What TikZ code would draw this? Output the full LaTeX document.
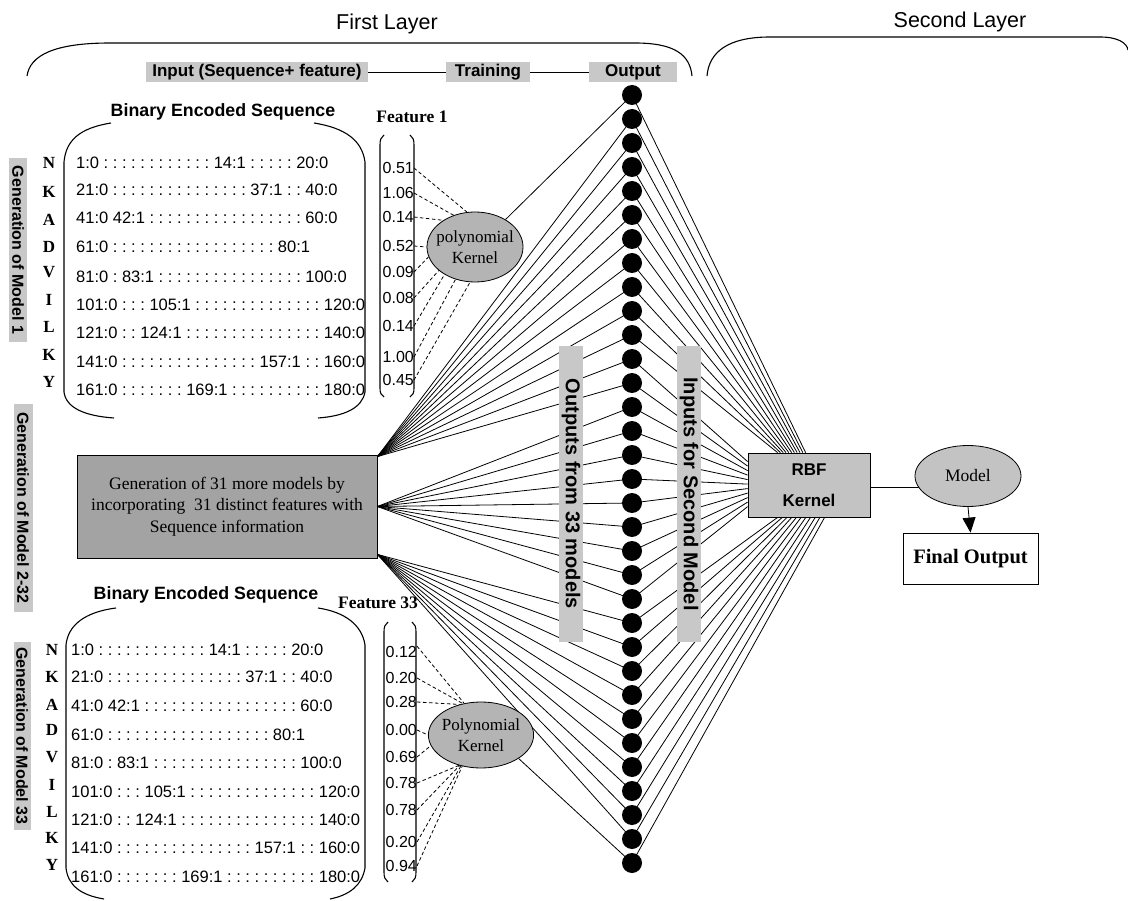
\documentclass[tikz,border=0pt]{standalone}
\usepackage{fontspec}
\setmainfont{Liberation Serif}
\setsansfont{Liberation Sans}
\usetikzlibrary{shapes.geometric,arrows.meta,backgrounds}
\definecolor{labg}{RGB}{200,200,200}
\definecolor{boxg}{RGB}{163,163,163}
\definecolor{ellg}{RGB}{180,180,180}
\definecolor{rbfg}{RGB}{195,195,195}
\newcommand\mycols[1]{\foreach\ci in {1,...,#1}{\ :}}
\tikzset{
 greylab/.style={fill=labg, inner sep=1pt, minimum height=20pt, font=\sffamily\bfseries\fontsize{17}{20}\selectfont},
 vlab/.style={fill=labg, inner sep=0pt, rotate=-90, font=\sffamily\bfseries\fontsize{16}{18}\selectfont},
 vlabbig/.style={fill=labg, inner sep=0pt, rotate=-90, minimum height=24pt, minimum width=295pt, font=\sffamily\bfseries\fontsize{20}{22}\selectfont},
 seqrow/.style={anchor=west, inner sep=0pt, font=\sffamily\fontsize{16.5}{18}\selectfont},
 aalab/.style={inner sep=0pt, font=\bfseries\fontsize{17}{18}\selectfont},
 fval/.style={anchor=east, inner sep=0pt, font=\sffamily\fontsize{16}{18}\selectfont},
 dotn/.style={circle, fill=black, minimum size=20pt, inner sep=0pt},
 kern/.style={ellipse, draw, fill=ellg, line width=0.8pt, inner ysep=0pt, align=center, font=\fontsize{17}{21}\selectfont},
 dsh/.style={dash pattern=on 3.5pt off 2.5pt, line width=0.8pt},
 conn/.style={line width=0.8pt},
 brk/.style={line width=1.1pt},
 bigtitle/.style={font=\sffamily\fontsize{21.5}{24}\selectfont},
 sechead/.style={font=\sffamily\bfseries\fontsize{17.8}{20}\selectfont},
 feathead/.style={font=\bfseries\fontsize{17.5}{20}\selectfont},
}
\begin{document}
\begin{tikzpicture}[x=1pt,y=-1pt]
\useasboundingbox (0,0) rectangle (1128,901);

% titles and braces
\node[bigtitle] (t1) at (387,24) {First Layer};
\node[bigtitle] (t2) at (960,22) {Second Layer};
\draw[brk] (27,76) .. controls (30,55) and (55,43) .. (110,43) -- (635,43) .. controls (675,43) and (690,55) .. (692,76);
\draw[brk] (707,76) .. controls (709,52) and (728,37) .. (770,37) -- (1100,37) .. controls (1118,37) and (1127,43) .. (1128,50);

% top row of grey labels
\node[greylab, minimum width=222pt] (inp) at (257,72) {Input (Sequence+ feature)};
\node[greylab, minimum width=84pt] (trn) at (488,72) {Training};
\node[greylab, minimum width=88pt] (outl) at (633,72) {Output};
\draw[conn] (inp) -- (trn);
\draw[conn] (trn) -- (outl);

% ---------- block 1 ----------
\node[sechead] (bes1) at (223,112) {Binary Encoded Sequence};
\node[feathead] (f1) at (412,117) {Feature 1};
\draw[brk] (111,123) .. controls (80,128) and (66,140) .. (64,162) -- (64,392) .. controls (66,408) and (85,416) .. (114,418);
\draw[brk] (314,123) .. controls (345,128) and (362,140) .. (365,162) -- (365,392) .. controls (362,408) and (345,416) .. (318,418);
\foreach \lt/\yy [count=\i] in {N/163,K/192,A/220,D/247,V/272,I/300,L/327,K/355,Y/382}
  \node[aalab] (la\i) at (49,\yy) {\lt};
\node[seqrow] (ra1) at (76,163) {1:0\mycols{12}\ 14:1\mycols{5}\ 20:0};
\node[seqrow] (ra2) at (76,190) {21:0\mycols{15}\ 37:1\mycols{2}\ 40:0};
\node[seqrow] (ra3) at (76,218) {41:0 42:1\mycols{17}\ 60:0};
\node[seqrow] (ra4) at (76,247) {61:0\mycols{18}\ 80:1};
\node[seqrow] (ra5) at (76,277) {81:0\mycols{1}\ 83:1\mycols{16}\ 100:0};
\node[seqrow] (ra6) at (76,305) {101:0\mycols{3}\ 105:1\mycols{14}\ 120:0};
\node[seqrow] (ra7) at (76,333) {121:0\mycols{2}\ 124:1\mycols{15}\ 140:0};
\node[seqrow] (ra8) at (76,362) {141:0\mycols{15}\ 157:1\mycols{2}\ 160:0};
\node[seqrow] (ra9) at (76,390) {161:0\mycols{7}\ 169:1\mycols{10}\ 180:0};
% feature column 1
\draw[brk] (384,135) .. controls (381,137) and (380,140) .. (380,145) -- (380,388) .. controls (380,393) and (381,395) .. (384,397);
\draw[brk] (410,135) .. controls (413,137) and (414,140) .. (414,145) -- (414,388) .. controls (414,393) and (413,395) .. (410,397);
\foreach \vv/\yy [count=\i] in {0.51/168,1.06/193,0.14/217,0.52/246,0.09/272,0.08/298,0.14/326,1.00/357,0.45/380}
  \node[fval] (va\i) at (414,\yy) {\vv};
\node[kern, minimum width=96pt, minimum height=70pt, inner xsep=-5pt] (pk1) at (475,247) {polynomial\\Kernel};
\foreach \i/\ang in {1/103,2/124,3/140,4/180,5/192,6/213,7/222,8/239,9/262}
  \draw[dsh] (va\i.east) -- (pk1.\ang);

% ---------- middle box ----------
\node[draw, fill=boxg, line width=0.8pt, minimum width=300pt, minimum height=103pt, inner sep=0pt, align=center, font=\fontsize{17.5}{21.5}\selectfont] (gen) at (227,506.5)
  {Generation of 31 more models by\\incorporating~ 31 distinct features with\\Sequence information};
\coordinate (genTR) at ([yshift=-2pt]gen.north east);
\coordinate (genMR) at (gen.east);
\coordinate (genBR) at ([yshift=4pt]gen.south east);

% ---------- block 2 ----------
\node[sechead] (bes2) at (206,595) {Binary Encoded Sequence};
\node[feathead] (f33) at (378,603) {Feature 33};
\draw[brk] (116,608) .. controls (85,612) and (68,625) .. (66,645) -- (66,868) .. controls (68,885) and (80,895) .. (104,899);
\draw[brk] (318,608) .. controls (345,612) and (362,625) .. (365,645) -- (365,868) .. controls (362,885) and (350,895) .. (330,899);
\foreach \lt/\yy [count=\i] in {N/650,K/677,A/705,D/730,V/757,I/785,L/812,K/838,Y/865}
  \node[aalab] (lb\i) at (52,\yy) {\lt};
\node[seqrow] (rb1) at (71,650) {1:0\mycols{12}\ 14:1\mycols{5}\ 20:0};
\node[seqrow] (rb2) at (71,677) {21:0\mycols{15}\ 37:1\mycols{2}\ 40:0};
\node[seqrow] (rb3) at (71,706) {41:0 42:1\mycols{17}\ 60:0};
\node[seqrow] (rb4) at (71,735) {61:0\mycols{18}\ 80:1};
\node[seqrow] (rb5) at (71,763) {81:0\mycols{1}\ 83:1\mycols{16}\ 100:0};
\node[seqrow] (rb6) at (71,792) {101:0\mycols{3}\ 105:1\mycols{14}\ 120:0};
\node[seqrow] (rb7) at (71,820) {121:0\mycols{2}\ 124:1\mycols{15}\ 140:0};
\node[seqrow] (rb8) at (71,848) {141:0\mycols{15}\ 157:1\mycols{2}\ 160:0};
\node[seqrow] (rb9) at (71,877) {161:0\mycols{7}\ 169:1\mycols{10}\ 180:0};
\draw[brk] (388,622) .. controls (385,624) and (384,627) .. (384,632) -- (384,872) .. controls (384,877) and (385,880) .. (388,882);
\draw[brk] (412,622) .. controls (415,624) and (416,627) .. (416,632) -- (416,872) .. controls (416,877) and (415,880) .. (412,882);
\foreach \vv/\yy [count=\i] in {0.12/652,0.20/678,0.28/702,0.00/730,0.69/757,0.78/783,0.78/810,0.20/842,0.94/866}
  \node[fval] (vb\i) at (417,\yy) {\vv};
\node[kern, minimum width=105pt, minimum height=66pt, inner xsep=-2pt] (pk2) at (481,735) {Polynomial\\Kernel};
\draw[dsh] (vb1.north east) -- (pk2.118);
\foreach \i/\ang in {2/120,3/125,4/180,5/192,6/234,7/235,8/237,9/239}
  \draw[dsh] (vb\i.east) -- (pk2.\ang);

% ---------- left labels ----------
\node[vlab, minimum width=184pt, minimum height=18pt] (gm1) at (18,250) {Generation of Model 1};
\node[vlab, minimum width=207pt, minimum height=19pt] (gm2) at (23,508) {Generation of Model 2-32};
\node[vlab, minimum width=188pt, minimum height=17pt] (gm3) at (22,736) {Generation of Model 33};

% ---------- output dots ----------
\foreach \k in {1,...,33}
  \node[dotn] (d\k) at (632,{95+24*(\k-1)}) {};

% ---------- second layer ----------
\node[draw, fill=rbfg, line width=0.8pt, minimum width=122pt, minimum height=64pt, inner sep=0pt, align=center, font=\sffamily\bfseries\fontsize{17}{31}\selectfont] (rbf) at (809,485) {RBF\\Kernel};
\node[ellipse, draw, fill=rbfg, line width=0.8pt, minimum width=106pt, minimum height=61pt, inner sep=0pt, font=\fontsize{17.5}{20}\selectfont] (model) at (968,476) {Model};
\node[draw, line width=0.8pt, minimum width=135pt, minimum height=51pt, inner sep=0pt, font=\bfseries\fontsize{20.5}{24}\selectfont] (fo) at (970.5,558.5) {Final Output};
\draw[conn, -{Triangle[width=13pt,length=15pt]}] (model.south) -- (fo.north);

% ---------- connectors (behind) ----------
\begin{pgfonlayer}{background}
\fill[white] (0,0) rectangle (1128,901);
\draw[conn] ([yshift=-2pt]rbf.east) -- ([yshift=-2pt]rbf.east -| model.center);
\draw[conn] (pk1.42) -- (d1.center);
\foreach \k in {2,...,13} \draw[conn] (genTR) -- (d\k.center);
\foreach \k in {14,...,22} \draw[conn] (genMR) -- (d\k.center);
\foreach \k in {23,...,32} \draw[conn] (genBR) -- (d\k.center);
\draw[conn] (pk2.-32) -- (d33.center);
\foreach \k in {1,...,11} \draw[conn] (d\k.center) -- ([xshift={58-(\k-1)*2.8}]rbf.north west);
\foreach \k in {12,...,22} \draw[conn] (d\k.center) -- ([yshift={-(9+(\k-12)*4.5)}]rbf.north west);
\foreach \k in {23,...,33} \draw[conn] (d\k.center) -- ([xshift={30+(\k-23)*4.7}]rbf.south west);
\end{pgfonlayer}

% ---------- vertical labels over the connectors ----------
\node[vlabbig] (o33) at (571,494) {Outputs from 33 models};
\node[vlabbig] (i2m) at (689,494) {Inputs for Second Model};
\end{tikzpicture}
\end{document}
